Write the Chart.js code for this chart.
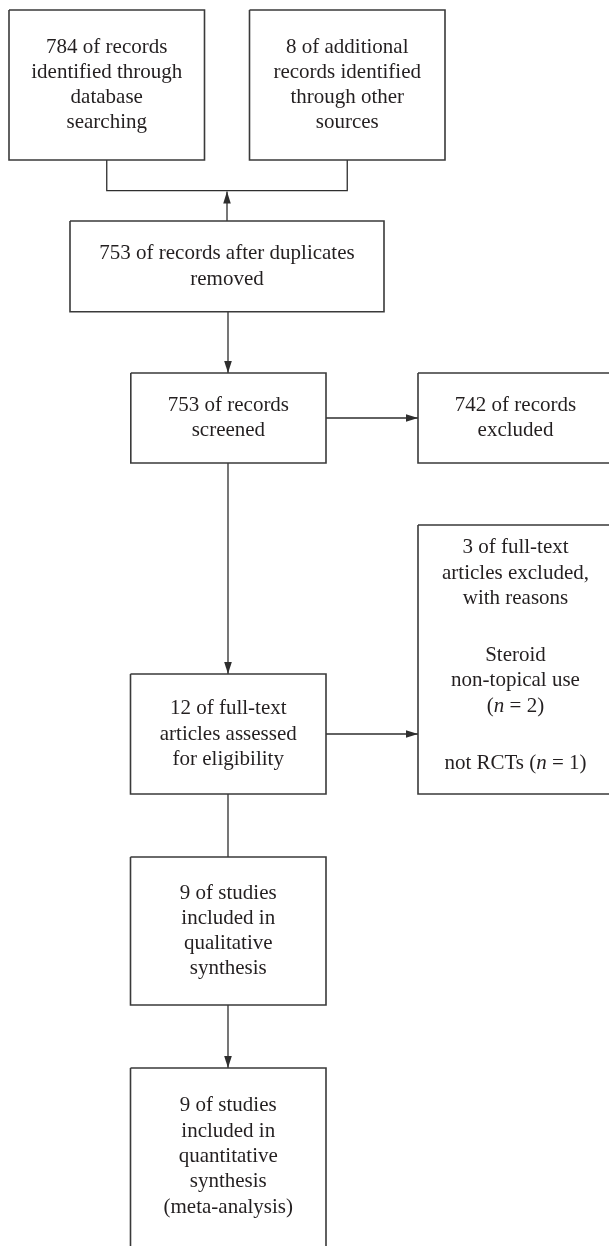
<!DOCTYPE html>
<html>
<head>
<meta charset="utf-8">
<script src="https://cdn.jsdelivr.net/npm/chart.js@4/dist/chart.umd.min.js"></script>
<style>
  html, body { margin: 0; padding: 0; background: #ffffff; }
  #wrap { position: relative; width: 609px; height: 1246px; }
</style>
</head>
<body>
<div id="wrap"><canvas id="c"></canvas></div>
<script>
// ---- data ----
const identifiedCounts = [784, 8];          // database, other sources
const afterDuplicates = [753];
const screenedCounts = [753];
const excludedCounts = [742];
const fullTextAssessed = [12];
const fullTextExcluded = [3];
const reasonLabels = ['Steroid non-topical use', 'not RCTs'];
const reasonCounts = [2, 1];
const includedCounts = [9, 9];              // qualitative, quantitative

// text lines of each box (built from the values above)
const boxLabels = [
  [`${identifiedCounts[0]} of records`, 'identified through', 'database', 'searching'],
  [`${identifiedCounts[1]} of additional`, 'records identified', 'through other', 'sources'],
  [`${afterDuplicates[0]} of records after duplicates`, 'removed'],
  [`${screenedCounts[0]} of records`, 'screened'],
  [`${excludedCounts[0]} of records`, 'excluded'],
  [`${fullTextExcluded[0]} of full-text`, 'articles excluded,', 'with reasons', '',
   'Steroid', 'non-topical use', `(_n_ = ${reasonCounts[0]})`, '',
   `${reasonLabels[1]} (_n_ = ${reasonCounts[1]})`],
  [`${fullTextAssessed[0]} of full-text`, 'articles assessed', 'for eligibility'],
  [`${includedCounts[0]} of studies`, 'included in', 'qualitative', 'synthesis'],
  [`${includedCounts[1]} of studies`, 'included in', 'quantitative', 'synthesis', '(meta-analysis)']
];

// ---- layout (diagram coordinates, mapped through the chart scales) ----
const boxGeom = [
  {l: 9,     t: 10,   r: 204.5, b: 160},
  {l: 249.5, t: 10,   r: 445,   b: 160},
  {l: 70,    t: 221,  r: 384,   b: 311.7},
  {l: 130.8, t: 373,  r: 326,   b: 463},
  {l: 418,   t: 373,  r: 613,   b: 463},
  {l: 418,   t: 525,  r: 613,   b: 794, dy: -4},
  {l: 130.5, t: 674,  r: 326,   b: 794},
  {l: 130.5, t: 857,  r: 326,   b: 1005},
  {l: 130.5, t: 1068, r: 326,   b: 1250}
];
const links = [
  {pts: [[106.75,160],[106.75,190.7],[347.25,190.7],[347.25,160]], arrow: false},
  {pts: [[227,221],[227,191.5]], arrow: true},
  {pts: [[228,311.7],[228,373]], arrow: true},
  {pts: [[326,418],[418,418]], arrow: true},
  {pts: [[228,463],[228,674]], arrow: true},
  {pts: [[326,734],[418,734]], arrow: true},
  {pts: [[228,794],[228,857]], arrow: false},
  {pts: [[228,1005],[228,1068]], arrow: true}
];

const LINE_COLOR = '#2e2e2e';
const BOX_COLOR = '#3a3a3a';
const TEXT_COLOR = '#231f20';
const FONT_SIZE = 21;
const FONT_FAMILY = "'Liberation Serif', 'DejaVu Serif', serif";
const LINE_STEP = 25.3;
const BLANK_STEP = 28.5;

const datasets = [];
boxGeom.forEach(g => {
  datasets.push({
    type: 'line',
    data: [{x:g.l,y:g.t},{x:g.r,y:g.t},{x:g.r,y:g.b},{x:g.l,y:g.b},{x:g.l,y:g.t}],
    borderColor: BOX_COLOR, borderWidth: 1.6, pointRadius: 0, tension: 0,
    fill: false, clip: false, borderJoinStyle: 'miter', spanGaps: true
  });
});
links.forEach(k => {
  datasets.push({
    type: 'line',
    data: k.pts.map(p => ({x: p[0], y: p[1]})),
    borderColor: LINE_COLOR, borderWidth: 1.3, pointRadius: 0, tension: 0,
    fill: false, clip: false, borderJoinStyle: 'miter', spanGaps: true,
    arrow: k.arrow
  });
});

function drawRich(ctx, text, cx, cy) {
  // segments between underscores are italic
  const parts = text.split('_');
  const fonts = parts.map((p, i) => (i % 2 ? 'italic ' : '') + FONT_SIZE + 'px ' + FONT_FAMILY);
  let total = 0;
  const widths = parts.map((p, i) => { ctx.font = fonts[i]; const w = ctx.measureText(p).width; total += w; return w; });
  let x = cx - total / 2;
  ctx.textAlign = 'left';
  parts.forEach((p, i) => { ctx.font = fonts[i]; ctx.fillText(p, x, cy); x += widths[i]; });
}

const flowPlugin = {
  id: 'flow',
  beforeDraw(chart) {
    const ctx = chart.ctx;
    ctx.save();
    ctx.fillStyle = '#ffffff';
    ctx.fillRect(0, 0, chart.width, chart.height);
    ctx.restore();
  },
  afterDatasetsDraw(chart) {
    const ctx = chart.ctx;
    const xs = chart.scales.x, ys = chart.scales.y;
    ctx.save();
    // arrowheads
    chart.data.datasets.forEach(ds => {
      if (!ds.arrow) return;
      const n = ds.data.length;
      const a = ds.data[n - 2], b = ds.data[n - 1];
      const ax = xs.getPixelForValue(a.x), ay = ys.getPixelForValue(a.y);
      const bx = xs.getPixelForValue(b.x), by = ys.getPixelForValue(b.y);
      const ang = Math.atan2(by - ay, bx - ax);
      const L = 12, W = 3.8;
      ctx.beginPath();
      ctx.moveTo(bx, by);
      ctx.lineTo(bx - L * Math.cos(ang) + W * Math.sin(ang), by - L * Math.sin(ang) - W * Math.cos(ang));
      ctx.lineTo(bx - L * Math.cos(ang) - W * Math.sin(ang), by - L * Math.sin(ang) + W * Math.cos(ang));
      ctx.closePath();
      ctx.fillStyle = LINE_COLOR;
      ctx.fill();
    });
    // texts
    ctx.fillStyle = TEXT_COLOR;
    ctx.textBaseline = 'middle';
    boxLabels.forEach((lines, i) => {
      const g = boxGeom[i];
      const steps = [];
      for (let j = 1; j < lines.length; j++) steps.push((lines[j] === '' || lines[j - 1] === '') ? BLANK_STEP : LINE_STEP);
      const h = steps.reduce((s, v) => s + v, 0);
      const cxv = (g.l + Math.min(g.r, 613)) / 2;
      const bottom = Math.min(g.b, 1245);
      let yv = (g.t + bottom) / 2 - h / 2 + (g.dy || 0);
      lines.forEach((ln, j) => {
        if (j > 0) yv += steps[j - 1];
        if (ln === '') return;
        drawRich(ctx, ln, xs.getPixelForValue(cxv), ys.getPixelForValue(yv));
      });
    });
    ctx.restore();
  }
};

new Chart(document.getElementById('c'), {
  type: 'scatter',
  data: { datasets },
  options: {
    responsive: true,
    maintainAspectRatio: false,
    animation: false,
    events: [],
    layout: { padding: 0 },
    plugins: { legend: { display: false }, tooltip: { enabled: false }, title: { display: false } },
    scales: {
      x: { type: 'linear', min: 0, max: 609, display: false },
      y: { type: 'linear', min: 0, max: 1246, reverse: true, display: false }
    }
  },
  plugins: [flowPlugin]
});
</script>
</body>
</html>
